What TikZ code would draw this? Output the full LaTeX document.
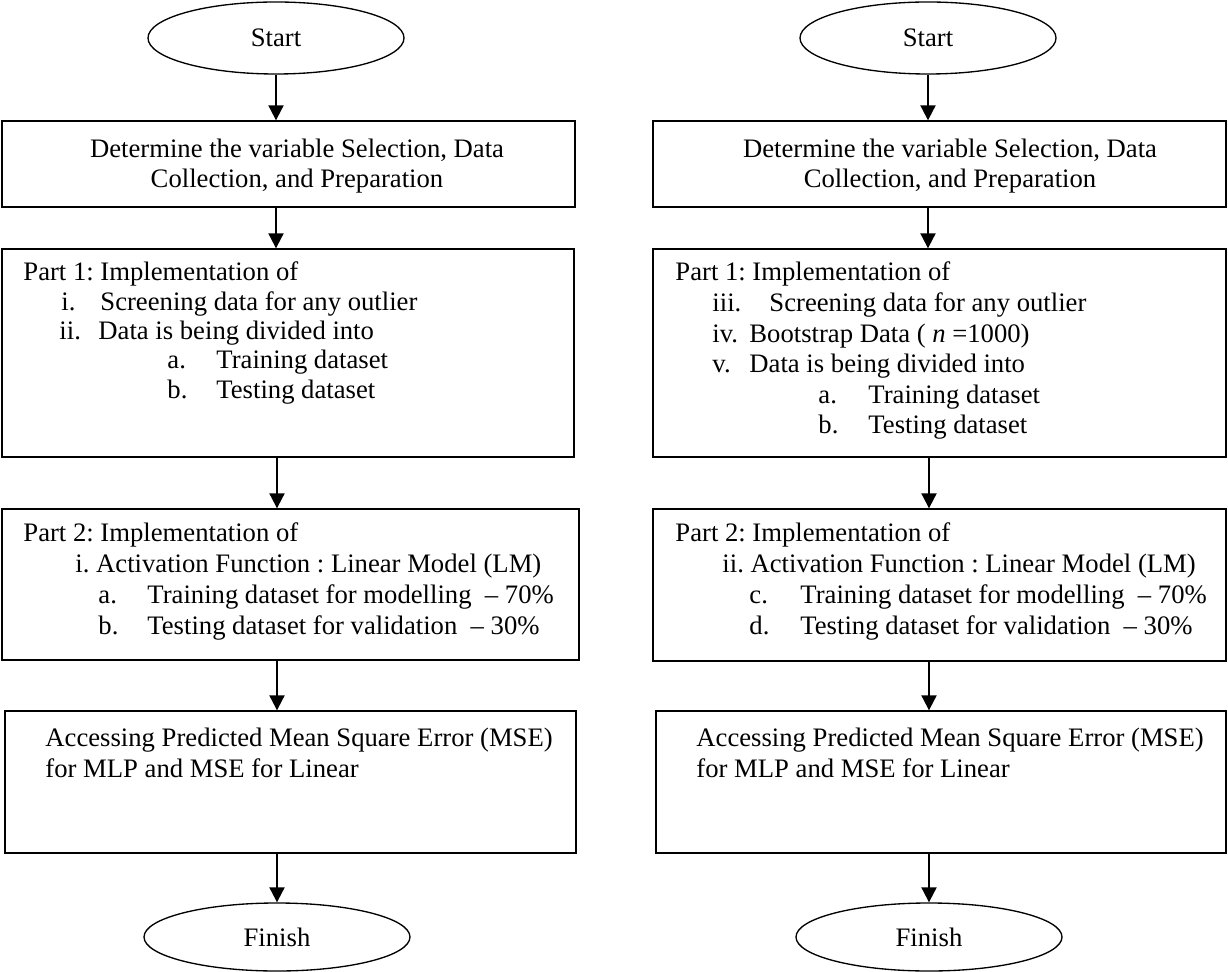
\documentclass[tikz,border=0pt]{standalone}
\usepackage{fontspec}
\setmainfont{Liberation Serif}
\usetikzlibrary{arrows.meta,shapes.geometric,fit}
\frenchspacing
\begin{document}
\begin{tikzpicture}[x=0.45pt, y=-0.45pt,
  box/.style={draw, line width=0.6pt, rectangle, inner sep=0pt},
  ell/.style={draw, line width=0.6pt, ellipse, inner sep=0pt, font=\fontsize{12}{14}\selectfont},
  startell/.style={ell, minimum width=115.2pt, minimum height=32.4pt},
  endell/.style={ell, minimum width=119.7pt, minimum height=30.6pt},
  arr/.style={line width=0.9pt, -{Triangle[width=6.75pt,length=6.75pt]}},
  txt/.style={anchor=mid west, inner sep=0pt, font=\fontsize{12}{14}\selectfont},
  ctxt/.style={anchor=mid, inner sep=0pt, font=\fontsize{12}{14}\selectfont}]
\useasboundingbox (0,0) rectangle (1228,972);

% ---------------- left column ----------------
\node[startell] (s1) at (276,38) {Start};
\node[box, fit={(2,121) (575,207)}] (b1) {};
\node[box, fit={(2,249) (574,457)}] (p1) {};
\node[box, fit={(2,509) (579,660)}] (q1) {};
\node[box, fit={(5,711) (576,853)}] (a1) {};
\node[endell] (f1) at (277,937) {Finish};

\node[ctxt] (b1t1) at (297,152) {Determine the variable Selection, Data};
\node[ctxt] (b1t2) at (297,182) {Collection, and Preparation};

\node[txt] (p1t0) at (23,275) {Part 1: Implementation of};
\node[txt] (p1n1) at (61,305) {i.};
\node[txt] (p1t1) at (100,305) {Screening data for any outlier};
\node[txt] (p1n2) at (59,334) {ii.};
\node[txt] (p1t2) at (98,334) {Data is being divided into};
\node[txt] (p1n3) at (167,363) {a.};
\node[txt] (p1t3) at (216,363) {Training dataset};
\node[txt] (p1n4) at (167,393) {b.};
\node[txt] (p1t4) at (216,393) {Testing dataset};

\node[txt] (q1t0) at (23,536) {Part 2: Implementation of};
\node[txt] (q1t1) at (75,567) {i. Activation Function : Linear Model (LM)};
\node[txt] (q1n2) at (98,598) {a.};
\node[txt] (q1t2) at (147,598) {Training dataset for modelling~~– 70\%};
\node[txt] (q1n3) at (98,629) {b.};
\node[txt] (q1t3) at (147,629) {Testing dataset for validation~~– 30\%};

\node[txt] (a1t1) at (45,741) {Accessing Predicted Mean Square Error (MSE)};
\node[txt] (a1t2) at (45,772) {for MLP and MSE for Linear};

\draw[arr] (s1.south) -- (s1.south |- b1.north);
\draw[arr] (s1.south |- b1.south) -- (s1.south |- p1.north);
\draw[arr] (f1.north |- p1.south) -- (f1.north |- q1.north);
\draw[arr] (f1.north |- q1.south) -- (f1.north |- a1.north);
\draw[arr] (f1.north |- a1.south) -- (f1.north);

% ---------------- right column ----------------
\node[startell] (s2) at (928,38) {Start};
\node[box, fit={(653,121) (1226,207)}] (b2) {};
\node[box, fit={(653,249) (1226,457)}] (p2) {};
\node[box, fit={(653,509) (1226,661)}] (q2) {};
\node[box, fit={(656,711) (1226,853)}] (a2) {};
\node[endell] (f2) at (929,937) {Finish};

\node[ctxt] (b2t1) at (950,152) {Determine the variable Selection, Data};
\node[ctxt] (b2t2) at (950,182) {Collection, and Preparation};

\node[txt] (p2t0) at (675,275) {Part 1: Implementation of};
\node[txt] (p2n1) at (712,306) {iii.};
\node[txt] (p2t1) at (769,306) {Screening data for any outlier};
\node[txt] (p2n2) at (712,337) {iv.};
\node[txt] (p2t2) at (749,337) {Bootstrap Data ( \textit{n} =1000)};
\node[txt] (p2n3) at (712,367) {v.};
\node[txt] (p2t3) at (749,367) {Data is being divided into};
\node[txt] (p2n4) at (818,398) {a.};
\node[txt] (p2t4) at (868,398) {Training dataset};
\node[txt] (p2n5) at (818,428) {b.};
\node[txt] (p2t5) at (868,428) {Testing dataset};

\node[txt] (q2t0) at (675,536) {Part 2: Implementation of};
\node[txt] (q2t1) at (722,567) {ii. Activation Function : Linear Model (LM)};
\node[txt] (q2n2) at (749,598) {c.};
\node[txt] (q2t2) at (800,598) {Training dataset for modelling~~– 70\%};
\node[txt] (q2n3) at (749,629) {d.};
\node[txt] (q2t3) at (800,629) {Testing dataset for validation~~– 30\%};

\node[txt] (a2t1) at (696,741) {Accessing Predicted Mean Square Error (MSE)};
\node[txt] (a2t2) at (696,772) {for MLP and MSE for Linear};

\draw[arr] (s2.south) -- (s2.south |- b2.north);
\draw[arr] (s2.south |- b2.south) -- (s2.south |- p2.north);
\draw[arr] (f2.north |- p2.south) -- (f2.north |- q2.north);
\draw[arr] (f2.north |- q2.south) -- (f2.north |- a2.north);
\draw[arr] (f2.north |- a2.south) -- (f2.north);
\end{tikzpicture}
\end{document}
